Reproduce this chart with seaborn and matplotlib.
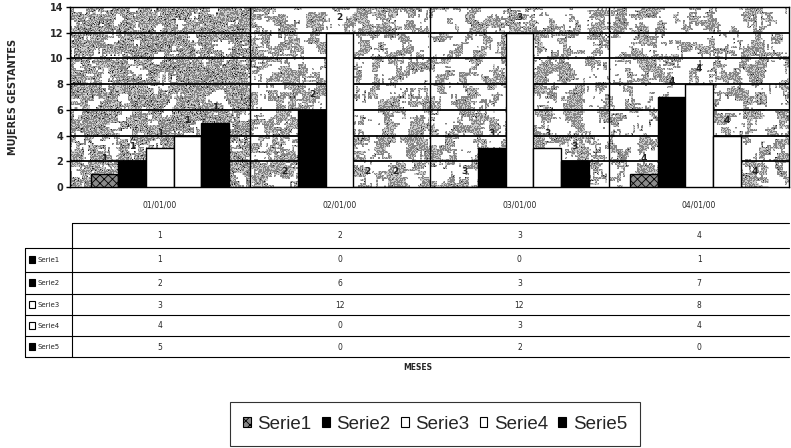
import numpy as np
import pandas as pd
import matplotlib
matplotlib.use("Agg")
import matplotlib.pyplot as plt
from matplotlib.patches import Patch, Rectangle
import seaborn as sns

# ---- data ----
meses = ["01/01/00", "02/01/00", "03/01/00", "04/01/00"]
etiquetas = ["1", "2", "3", "4"]
series = ["Serie1", "Serie2", "Serie3", "Serie4", "Serie5"]
serie1 = [1, 0, 0, 1]
serie2 = [2, 6, 3, 7]
serie3 = [3, 12, 12, 8]
serie4 = [4, 0, 3, 4]
serie5 = [5, 0, 2, 0]
valores = [serie1, serie2, serie3, serie4, serie5]
colores = ["#8a8a8a", "#000000", "#ffffff", "#ffffff", "#000000"]

df = pd.DataFrame(
    [(m, s, v[i]) for s, v in zip(series, valores) for i, m in enumerate(meses)],
    columns=["mes", "serie", "valor"],
)

sns.set_theme(style="white")
plt.rcParams["font.family"] = ["DejaVu Sans"]
plt.rcParams["hatch.linewidth"] = 0.6

W_PX, H_PX = 791, 448
fig = plt.figure(figsize=(W_PX / 100, H_PX / 100), dpi=100)
fig.patch.set_facecolor("white")

L, R, T, B = 70, 789, 7, 187
ax = fig.add_axes([L / W_PX, 1 - B / H_PX, (R - L) / W_PX, (B - T) / H_PX])

# textured background (decorative only)
rng = np.random.default_rng(11)
H, Wd = 180, 720
h2, w2 = H // 2, Wd // 2
n = rng.random((h2, w2))
s = np.zeros_like(n)
for dy in range(-2, 3):
    for dx in range(-2, 3):
        s += np.roll(np.roll(n, dy, 0), dx, 1)
s /= 25
s = np.repeat(np.repeat(s, 2, 0), 2, 1)
xs = np.linspace(0, 1, Wd)[None, :]
thr = np.where(xs < 0.25, 0.445, 0.50)
gray = s > thr
tex = np.ones((H, Wd))
d = rng.random((H, Wd))
tex[gray & (d < 0.6)] = 0.52
tex[gray & (d >= 0.6)] = 0.8
spk = rng.random((H, Wd)) < np.where(xs < 0.25, 0.05, 0.015)
tex[spk & gray] = 0.15
ax.imshow(tex, cmap="gray", vmin=0, vmax=1, extent=(-0.5, 3.5, 0, 14),
          aspect="auto", interpolation="nearest", zorder=0)

sns.barplot(data=df, x="mes", y="valor", hue="serie", hue_order=series,
            palette=colores, width=0.77, edgecolor="black", linewidth=1.0,
            saturation=1, ax=ax, legend=False)

for bar in ax.containers[0]:
    bar.set_hatch("xxxx")
    bar.set_edgecolor("black")
for cont in ax.containers:
    for bar in cont:
        bar.set_zorder(3)

ax.set_xlim(-0.5, 3.5)
ax.set_ylim(0, 14)
ax.set_yticks(range(0, 15, 2))
for y in range(2, 15, 2):
    ax.axhline(y, color="black", lw=1.3, zorder=1.5)
for x in [0.5, 1.5, 2.5]:
    ax.axvline(x, color="black", lw=1.0, zorder=1.5)

# data labels (category number above each bar)
for cont in ax.containers:
    for j, bar in enumerate(cont):
        ax.annotate(etiquetas[j], (bar.get_x() + bar.get_width() / 2, bar.get_height()),
                    xytext=(0, 11), textcoords="offset points", ha="center", va="center",
                    fontsize=6.5, fontweight="bold", color="#222222", zorder=4)

ax.set_xticks(range(len(meses)))
ax.set_xticklabels([])
ax.tick_params(axis="x", length=0)
ax.tick_params(axis="y", length=3, width=1, color="black", direction="out",
               labelsize=7, pad=2, left=True)
for lab in ax.get_yticklabels():
    lab.set_fontweight("bold")
ax.set_xlabel("")
ax.set_ylabel("")
for sp in ax.spines.values():
    sp.set_color("black")
    sp.set_linewidth(1.0)
    sp.set_visible(True)

fig.text(13 / W_PX, 1 - 97 / H_PX, "MUJERES GESTANTES", rotation=90, ha="center",
         va="center", fontsize=7, fontweight="bold")

# ---- data table under the chart ----
tx = fig.add_axes([L / W_PX, 0, (R - L) / W_PX, 1])
tx.set_xlim(-0.5, 3.5)
tx.set_ylim(H_PX, 0)
tx.axis("off")
unit = (R - L) / 4.0
def px2x(px):
    return -0.5 + (px - L) / unit

for j, m in enumerate(meses):
    tx.text(j, 205, m, ha="center", va="center", fontsize=5.5)
row_lines = [223, 248, 272, 294, 315, 336, 357]
tx.plot([px2x(72), 3.5], [223, 223], color="black", lw=0.8, clip_on=False)
for y in row_lines[1:]:
    tx.plot([px2x(25), 3.5], [y, y], color="black", lw=0.8, clip_on=False)
tx.plot([px2x(25), px2x(25)], [248, 357], color="black", lw=0.8, clip_on=False)
tx.plot([px2x(72), px2x(72)], [223, 357], color="black", lw=0.8, clip_on=False)

for j, e in enumerate(etiquetas):
    tx.text(j, 236, e, ha="center", va="center", fontsize=5.5)
row_y = [260, 283, 305, 326, 347]
for i, (sname, vals) in enumerate(zip(series, valores)):
    y = row_y[i]
    fc = "#000000" if colores[i] != "#ffffff" else "#ffffff"
    tx.add_patch(Rectangle((px2x(29), y + 3.5), 6 / unit, -7, facecolor=fc,
                           edgecolor="black", lw=0.8, clip_on=False))
    tx.text(px2x(38), y, sname, ha="left", va="center", fontsize=5)
    for j, v in enumerate(vals):
        tx.text(j, y, str(v), ha="center", va="center", fontsize=5.5)

tx.text(px2x(418), 368, "MESES", ha="center", va="center", fontsize=5.5,
        fontweight="bold")

# ---- legend ----
handles = []
for i, sname in enumerate(series):
    h = Patch(facecolor=colores[i], edgecolor="black", lw=0.8,
              hatch="xxxx" if i == 0 else None, label=sname)
    handles.append(h)
leg = fig.legend(handles=handles, loc="center", bbox_to_anchor=(435 / W_PX, 1 - 424 / H_PX),
                 ncol=5, frameon=True, fancybox=False, edgecolor="black",
                 prop={"family": "Liberation Sans", "size": 13.5},
                 handlelength=0.42, handleheight=0.42, handletextpad=0.35,
                 columnspacing=0.55, borderpad=0.7, borderaxespad=0)
leg.get_frame().set_linewidth(0.8)

fig.savefig("out.png", dpi=100)
